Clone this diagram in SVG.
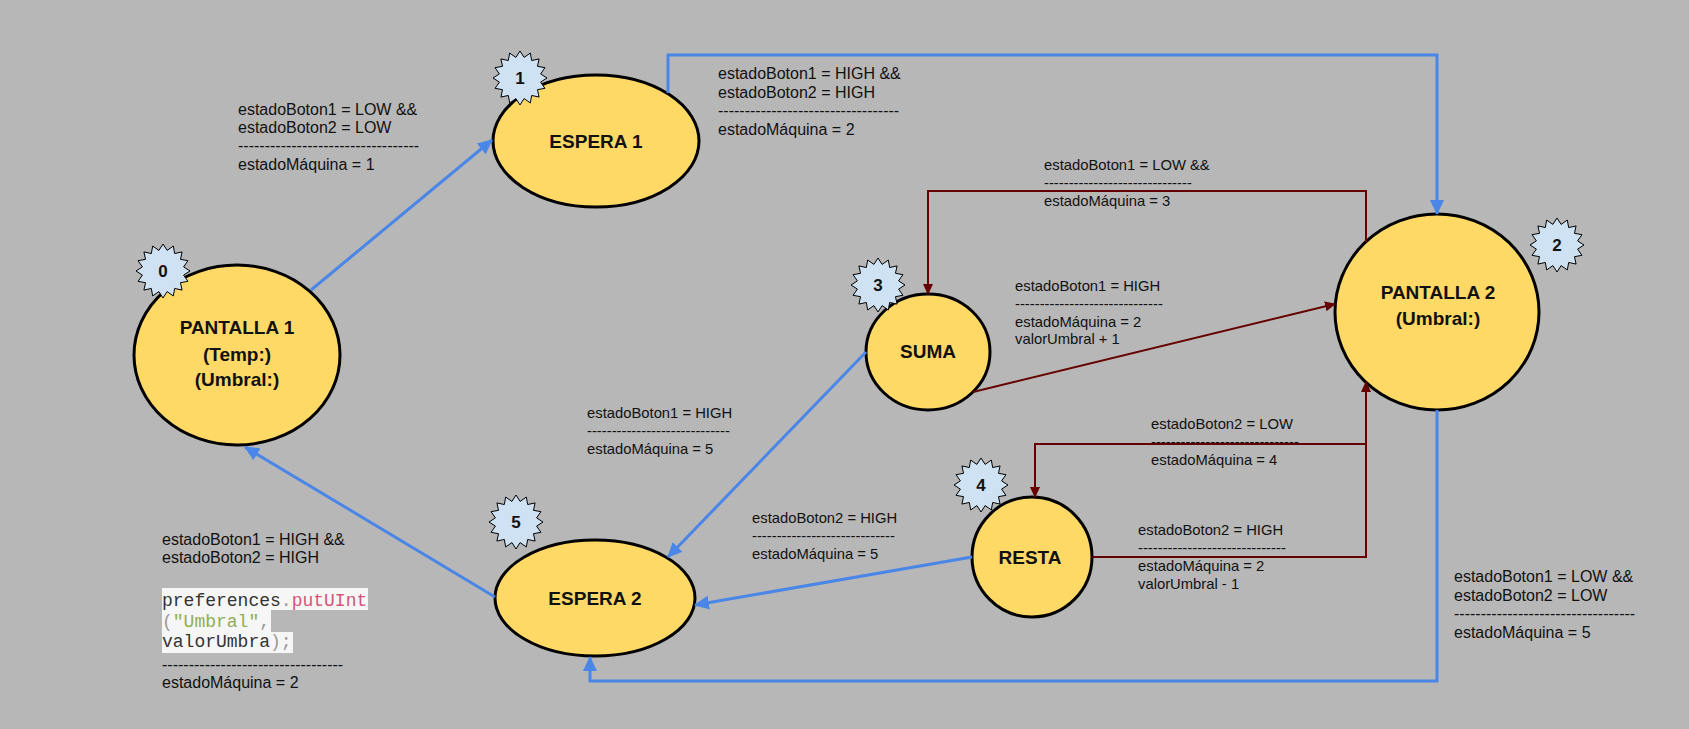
<svg xmlns="http://www.w3.org/2000/svg" xmlns:xlink="http://www.w3.org/1999/xlink" width="1689" height="729" viewBox="0 0 1689 729">
<defs>
<style>
.node{fill:#ffd966;stroke:#000;stroke-width:3}
.title{font-family:"Liberation Sans",Arial,sans-serif;font-weight:bold;font-size:19px;fill:#111;text-anchor:middle}
.badge{fill:#cfe2f3;stroke:#000;stroke-width:1}
.btxt{font-family:"Liberation Sans",Arial,sans-serif;font-weight:bold;font-size:17px;fill:#111;text-anchor:middle}
.lbl{font-family:"Liberation Sans",Arial,sans-serif;font-size:14.8px;fill:#111}
.lbl2{font-family:"Liberation Sans",Arial,sans-serif;font-size:16px;fill:#111}
.code{font-family:"Liberation Mono","Courier New",monospace;font-size:18px}
.blue{fill:none;stroke:#4a86e8;stroke-width:3}
.red{fill:none;stroke:#660000;stroke-width:2}
</style>
<polygon id="star" points="0,-27 4.1,-20.6 10.33,-24.95 11.67,-17.46 19.09,-19.09 17.46,-11.67 24.95,-10.33 20.6,-4.1 27,0 20.6,4.1 24.95,10.33 17.46,11.67 19.09,19.09 11.67,17.46 10.33,24.95 4.1,20.6 0,27 -4.1,20.6 -10.33,24.95 -11.67,17.46 -19.09,19.09 -17.46,11.67 -24.95,10.33 -20.6,4.1 -27,0 -20.6,-4.1 -24.95,-10.33 -17.46,-11.67 -19.09,-19.09 -11.67,-17.46 -10.33,-24.95 -4.1,-20.6"/>
<marker id="ab" markerUnits="userSpaceOnUse" markerWidth="15" markerHeight="14" refX="14" refY="7" orient="auto"><path d="M0,0 L15,7 L0,14 z" fill="#4a86e8"/></marker>
<marker id="ar" markerUnits="userSpaceOnUse" markerWidth="11" markerHeight="10" refX="10" refY="5" orient="auto"><path d="M0,0 L11,5 L0,10 z" fill="#660000"/></marker>
</defs>
<rect x="0" y="0" width="1689" height="729" fill="#b7b7b7"/>

<g id="n0">
<ellipse class="node" cx="237" cy="355" rx="103" ry="90"/>
<text class="title" x="237" y="334">PANTALLA 1</text>
<text class="title" x="237" y="361">(Temp:)</text>
<text class="title" x="237" y="386">(Umbral:)</text>
<use xlink:href="#star" href="#star" class="badge" x="163" y="271"/>
<text class="btxt" x="163" y="277">0</text>
</g>
<g id="n1">
<ellipse class="node" cx="596" cy="141" rx="103" ry="66"/>
<text class="title" x="596" y="148">ESPERA 1</text>
<use xlink:href="#star" href="#star" class="badge" x="520" y="78"/>
<text class="btxt" x="520" y="84">1</text>
</g>
<g id="n2">
<ellipse class="node" cx="1437" cy="312" rx="102" ry="98"/>
<text class="title" x="1438" y="299">PANTALLA 2</text>
<text class="title" x="1438" y="325">(Umbral:)</text>
<use xlink:href="#star" href="#star" class="badge" x="1557" y="245"/>
<text class="btxt" x="1557" y="251">2</text>
</g>
<g id="n3">
<ellipse class="node" cx="928" cy="352" rx="62" ry="58"/>
<text class="title" x="928" y="358">SUMA</text>
<use xlink:href="#star" href="#star" class="badge" x="878" y="285"/>
<text class="btxt" x="878" y="291">3</text>
</g>
<g id="n4">
<ellipse class="node" cx="1032" cy="557" rx="60" ry="60"/>
<text class="title" x="1030" y="564">RESTA</text>
<use xlink:href="#star" href="#star" class="badge" x="981" y="485"/>
<text class="btxt" x="981" y="491">4</text>
</g>
<g id="n5">
<ellipse class="node" cx="595" cy="598" rx="100" ry="58"/>
<text class="title" x="595" y="605">ESPERA 2</text>
<use xlink:href="#star" href="#star" class="badge" x="516" y="522"/>
<text class="btxt" x="516" y="528">5</text>
</g>

<g id="connectors">
<path class="blue" d="M311,290 L492,140" marker-end="url(#ab)"/>
<path class="blue" d="M668,93 L668,55 L1437,55 L1437,214" marker-end="url(#ab)"/>
<path class="blue" d="M1437,410 L1437,681 L590,681 L590,657" marker-end="url(#ab)"/>
<path class="blue" d="M866,352 L668,557" marker-end="url(#ab)"/>
<path class="blue" d="M972,557 L695,605" marker-end="url(#ab)"/>
<path class="blue" d="M495,597 L245,447" marker-end="url(#ab)"/>
<path class="red" d="M1366,242 L1366,191 L928,191 L928,294" marker-end="url(#ar)"/>
<path class="red" d="M973,392 L1335,304" marker-end="url(#ar)"/>
<path class="red" d="M1092,557 L1366,557 L1366,382" marker-end="url(#ar)"/>
<path class="red" d="M1366,444 L1035,444 L1035,497" marker-end="url(#ar)"/>
</g>

<g id="labels">
<text class="lbl2" x="238" y="115" font-size="15.5">estadoBoton1 = LOW &amp;&amp;</text>
<text class="lbl2" x="238" y="133" font-size="15.5">estadoBoton2 = LOW</text>
<text class="lbl2" x="238" y="151" font-size="15.5">----------------------------------</text>
<text class="lbl2" x="238" y="170" font-size="15.5">estadoMáquina = 1</text>

<text class="lbl2" x="718" y="79">estadoBoton1 = HIGH &amp;&amp;</text>
<text class="lbl2" x="718" y="97.5">estadoBoton2 = HIGH</text>
<text class="lbl2" x="718" y="116">----------------------------------</text>
<text class="lbl2" x="718" y="134.5">estadoMáquina = 2</text>

<text class="lbl" x="1044" y="170">estadoBoton1 = LOW &amp;&amp;</text>
<text class="lbl" x="1044" y="188">------------------------------</text>
<text class="lbl" x="1044" y="206">estadoMáquina = 3</text>

<text class="lbl" x="1015" y="291">estadoBoton1 = HIGH</text>
<text class="lbl" x="1015" y="309">------------------------------</text>
<text class="lbl" x="1015" y="327">estadoMáquina = 2</text>
<text class="lbl" x="1015" y="344">valorUmbral + 1</text>

<text class="lbl" x="1151" y="429">estadoBoton2 = LOW</text>
<text class="lbl" x="1151" y="447">------------------------------</text>
<text class="lbl" x="1151" y="465">estadoMáquina = 4</text>

<text class="lbl" x="1138" y="535">estadoBoton2 = HIGH</text>
<text class="lbl" x="1138" y="553">------------------------------</text>
<text class="lbl" x="1138" y="571">estadoMáquina = 2</text>
<text class="lbl" x="1138" y="589">valorUmbral - 1</text>

<text class="lbl" x="587" y="418">estadoBoton1 = HIGH</text>
<text class="lbl" x="587" y="436">-----------------------------</text>
<text class="lbl" x="587" y="454">estadoMáquina = 5</text>

<text class="lbl" x="752" y="523">estadoBoton2 = HIGH</text>
<text class="lbl" x="752" y="541">-----------------------------</text>
<text class="lbl" x="752" y="559">estadoMáquina = 5</text>

<text class="lbl2" x="162" y="545">estadoBoton1 = HIGH &amp;&amp;</text>
<text class="lbl2" x="162" y="563">estadoBoton2 = HIGH</text>
<rect x="162" y="588" width="206" height="22" fill="#f6f6f6"/>
<rect x="162" y="610" width="109" height="22" fill="#f6f6f6"/>
<rect x="162" y="632" width="131" height="21" fill="#f6f6f6"/>
<text class="code" x="162" y="606"><tspan fill="#333">preferences</tspan><tspan fill="#999">.</tspan><tspan fill="#d4547c">putUInt</tspan></text>
<text class="code" x="162" y="627"><tspan fill="#999">(</tspan><tspan fill="#8fae4e">"Umbral"</tspan><tspan fill="#999">,</tspan></text>
<text class="code" x="162" y="647"><tspan fill="#333">valorUmbra</tspan><tspan fill="#999">);</tspan></text>
<text class="lbl2" x="162" y="670">----------------------------------</text>
<text class="lbl2" x="162" y="688">estadoMáquina = 2</text>

<text class="lbl2" x="1454" y="582">estadoBoton1 = LOW &amp;&amp;</text>
<text class="lbl2" x="1454" y="600.5">estadoBoton2 = LOW</text>
<text class="lbl2" x="1454" y="619">----------------------------------</text>
<text class="lbl2" x="1454" y="637.5">estadoMáquina = 5</text>
</g>
</svg>
